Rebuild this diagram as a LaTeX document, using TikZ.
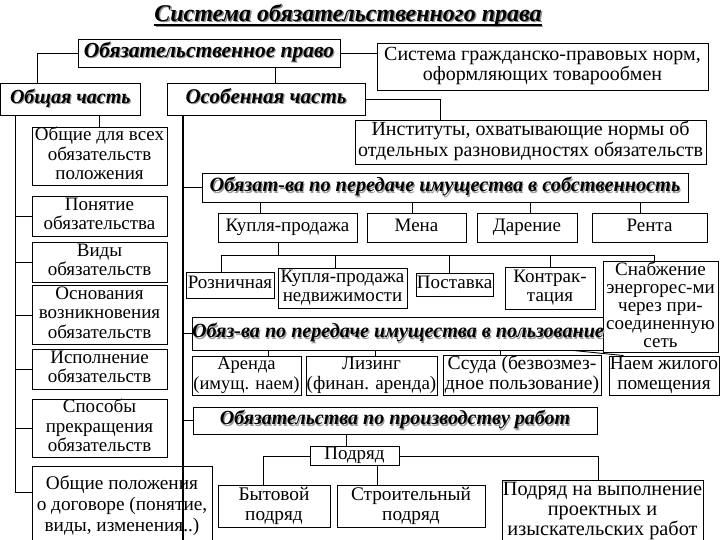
\documentclass[tikz,border=0pt]{standalone}
\usepackage{fontspec}
\setmainfont{Liberation Serif}
\usetikzlibrary{calc}
\newcommand\shd[1]{\leavevmode\rlap{\kern1.2pt\raisebox{-1.2pt}{\textcolor{black!40}{#1}}}#1}
\newcommand\rbox[7][]{%
 \pgfmathsetmacro\rbcx{(#3+#5)/2}\pgfmathsetmacro\rbcy{(#4+#6)/2}%
 \pgfmathsetmacro\rbw{#5-#3}\pgfmathsetmacro\rbh{#6-#4}%
 \node[bx,#1,minimum width=\rbw pt,minimum height=\rbh pt] (#2) at (\rbcx,\rbcy) {\strut#7\strut};}
\tikzset{
 bx/.style={draw, line width=0.9pt, fill=white, inner xsep=0pt, inner ysep=0pt, align=center,
   font=\fontsize{19}{19.5}\selectfont},
 hd/.style={font=\fontsize{20.3}{22}\bfseries\itshape\selectfont},
 fbig/.style={font=\fontsize{20}{20.5}\selectfont},
 ln/.style={line width=0.9pt},
 thk/.style={line width=1.8pt}
}
\begin{document}
\begin{tikzpicture}[x=1pt,y=-1pt]
\useasboundingbox (0,0) rectangle (720,540);
% title
\node[inner sep=0pt, text=black!45, font=\fontsize{24}{26}\bfseries\itshape\selectfont] (tsh) at (349.5,16.5) {Система обязательственного права};
\draw[line width=1.2pt, black!45] ([yshift=-4pt]tsh.base west) -- ([yshift=-4pt]tsh.base east);
\node[inner sep=0pt, font=\fontsize{24}{26}\bfseries\itshape\selectfont] (tt) at (348,15) {Система обязательственного права};
\draw[line width=1.2pt] ([yshift=-4pt]tt.base west) -- ([yshift=-4pt]tt.base east);

\rbox[hd,font=\fontsize{21.5}{22}\bfseries\itshape\selectfont]{op}{78}{39}{340}{67}{\shd{Обязательственное право}}
\rbox[fbig]{gs}{377}{43}{708}{90}{Система гражданско-правовых норм,\\ оформляющих товарообмен}
\rbox[hd,font=\fontsize{20}{22}\bfseries\itshape\selectfont]{ob}{0.5}{83}{140}{115}{\shd{Общая часть}}
\rbox[hd,font=\fontsize{21}{22}\bfseries\itshape\selectfont]{os}{167}{83}{365}{115}{\shd{Особенная часть}}
\rbox[fbig]{inst}{355}{120}{706}{164}{Институты, охватывающие нормы об\\ отдельных разновидностях обязательств}
\rbox{ov}{32}{128}{167}{185}{Общие для всех\\ обязательств\\ положения}
\rbox{pn}{32}{196}{167}{236}{Понятие\\ обязательства}
\rbox{vid}{32}{242}{167}{282}{Виды\\ обязательств}
\rbox{osn}{32}{287}{167}{343}{Основания\\ возникновения\\ обязательств}
\rbox{isp}{32}{349}{167}{389}{Исполнение\\ обязательств}
\rbox{spo}{32}{400}{167}{457}{Способы\\ прекращения\\ обязательств}
\rbox[font=\fontsize{19.3}{21}\selectfont]{gp}{32}{466}{212}{546}{Общие положения\\ о договоре (понятие,\\ виды, изменения..)}
\rbox[hd]{sob}{202}{173}{688}{202}{\shd{Обязат-ва по передаче имущества в собственность}}
\rbox{kp}{218}{213}{357}{242}{Купля-продажа}
\rbox{mena}{367}{213}{466}{242}{Мена}
\rbox{dar}{477}{213}{577}{242}{Дарение}
\rbox{rent}{592}{213}{707}{242}{Рента}
\rbox{roz}{186}{272}{274}{298}{Розничная}
\rbox{ned}{278}{268}{407}{308}{Купля-продажа\\ недвижимости}
\rbox{pos}{416}{273}{493}{296}{Поставка}
\rbox{kon}{505}{267}{595}{309}{Контрак-\\ тация}
\rbox[font=\fontsize{19}{18}\selectfont]{sna}{603}{262}{718}{352}{Снабжение\\ энергорес-ми\\ через при-\\ соединенную\\ сеть}
\rbox[hd,font=\fontsize{20.1}{22}\bfseries\itshape\selectfont]{pol}{193}{317}{603}{350}{\shd{Обяз-ва по передаче имущества в пользование}}
\rbox[font=\fontsize{18.5}{19.5}\selectfont]{ar}{192}{360}{301}{391}{Аренда\\ (имущ. наем)}
\rbox{liz}{306}{360}{437}{391}{Лизинг\\ (финан. аренда)}
\rbox[font=\fontsize{19.6}{19.5}\selectfont]{ssu}{443}{360}{601}{391}{Ссуда (безвозмез-\\ дное пользование)}
\rbox[font=\fontsize{19.3}{19.5}\selectfont]{naem}{609}{360}{719}{391}{Наем жилого\\ помещения}
\rbox[hd,font=\fontsize{20}{22}\bfseries\itshape\selectfont]{rab}{193}{407}{597}{434}{\shd{Обязательства по производству работ}}
\rbox{pod}{310}{447}{399}{465}{Подряд}
\rbox[font=\fontsize{19.3}{20}\selectfont]{byt}{218}{485}{330}{527}{Бытовой\\ подряд}
\rbox[font=\fontsize{19.3}{20}\selectfont]{str}{337}{485}{485}{527}{Строительный\\ подряд}
\rbox[font=\fontsize{20.3}{20}\selectfont]{proj}{502}{480}{703}{542}{Подряд на выполнение\\ проектных и\\ изыскательских работ}

% top connectors
\draw[ln] (op.west) -| ([xshift=-33pt]ob.north);
\draw[ln] (op.east) -- (op.east -| gs.west);
\draw[ln] ([xshift=66pt]op.south) -- ([xshift=66pt]op.south |- os.north);
\draw[ln] (os.east) -| ([xshift=-90.5pt]inst.north);
% general part
\coordinate (lv) at ([xshift=-55pt]ob.south);
\draw[ln] (lv) |- ([yshift=14pt]gp.west);
\draw[ln] (ov.north |- ob.south) -- (ov.north);
\foreach \b in {pn,vid,osn,isp,spo} \draw[ln] (\b.west) -- (\b.west -| lv);
% special part
\coordinate (rv) at ([xshift=-83pt]os.south);
\coordinate (bot) at (0,540);
\draw[thk] (rv) -- (rv |- bot);
\foreach \b in {sob,pol,rab} \draw[ln] (\b.west) -- (\b.west -| rv);
% ownership
\draw[ln] ([xshift=-27.5pt]kp.north) -- ([xshift=-27.5pt]kp.north |- sob.south);
\draw[ln] ([xshift=-4.5pt]mena.north) -- ([xshift=-4.5pt]mena.north |- sob.south);
\draw[ln] ([xshift=3pt]dar.north) -- ([xshift=3pt]dar.north |- sob.south);
\draw[ln] ([xshift=-9.5pt]rent.north) -- ([xshift=-9.5pt]rent.north |- sob.south);
\coordinate (hb) at ([xshift=-9.5pt,yshift=-13pt]kp.south);
\draw[ln] ([xshift=-9.5pt]kp.south) -- (hb);
\draw[ln] ([xshift=-9pt]roz.north) |- (hb);
\draw[ln] ([xshift=-7.5pt]ned.north) |- (hb);
\draw[ln] ([xshift=-5.5pt]pos.north) |- (hb);
\draw[ln] (kon.north) |- (hb);
\draw[ln] ([xshift=-6.5pt]sna.north) |- (hb);
% use
\draw[ln] ([xshift=21.5pt]ar.north) -- ([xshift=21.5pt]ar.north |- pol.south);
\draw[ln] ([xshift=3.5pt]liz.north) -- ([xshift=3.5pt]liz.north |- pol.south);
\draw[ln] ([xshift=-22pt]ssu.north) -- ([xshift=-22pt]ssu.north |- pol.south);
\draw[ln] ([xshift=175pt]pol.south) -- ([xshift=-40.5pt]naem.north);
% works
\draw[ln] ([xshift=-49pt]rab.south) -- ([xshift=-49pt]rab.south |- pod.north);
\draw[ln] (pod.west) -| ([xshift=-11pt]byt.north);
\draw[ln] ([xshift=22.5pt]pod.south) -- ([xshift=22.5pt]pod.south |- str.north);
\draw[ln] (pod.east) -| ([xshift=-4.5pt]proj.north);
\end{tikzpicture}
\end{document}
